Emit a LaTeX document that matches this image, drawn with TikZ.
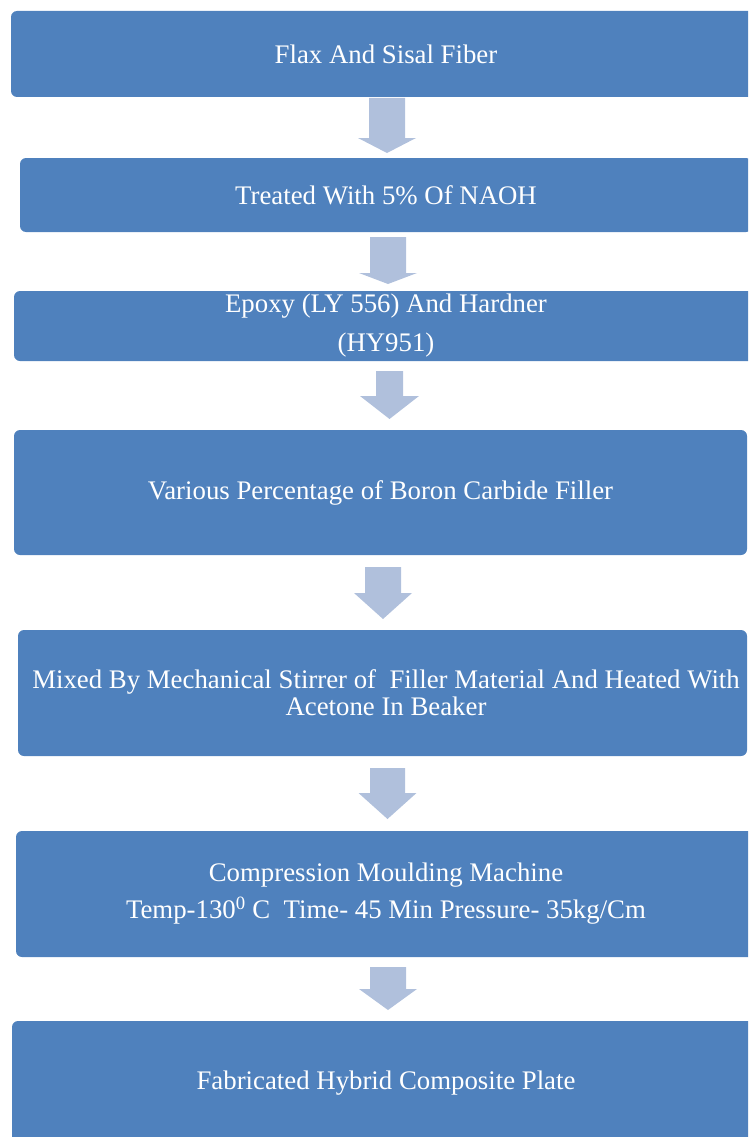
\documentclass[tikz,border=0pt]{standalone}
\usepackage{fontspec}
\setmainfont{Liberation Serif}
\definecolor{boxblue}{HTML}{4F81BD}
\definecolor{arrowblue}{HTML}{B0C0DC}
\tikzset{
  stepbox/.style={fill=boxblue, draw=none, rounded corners=6pt, text=white,
    align=center, inner sep=0pt, font=\fontsize{26.8}{30}\selectfont},
}
% block arrow: cx, shaft half width, head half width, top, head start, tip
\newcommand\blockarr[6]{%
  \fill[arrowblue] (#1-#2,#4) -- (#1+#2,#4) -- (#1+#2,#5) -- (#1+#3,#5)
    -- (#1,#6) -- (#1-#3,#5) -- (#1-#2,#5) -- cycle;}
\begin{document}
\begin{tikzpicture}[x=1pt,y=-1pt]
\useasboundingbox (0,0) rectangle (748,1137);
\clip (0,0) rectangle (748,1137);
% boxes: center x = (l+r)/2, width = r-l, center y, height
\node[stepbox, minimum width=750pt, minimum height=86pt] (b1) at (386,54) {Flax And Sisal Fiber};
\node[stepbox, minimum width=732pt, minimum height=74pt] (b2) at (386,195) {Treated With 5\% Of NAOH};
\node[stepbox, minimum width=744pt, minimum height=70pt, font=\fontsize{26.8}{39}\selectfont] (b3) at (386,326) {Epoxy (LY 556) And Hardner\\(HY951)};
\node[stepbox, minimum width=733pt, minimum height=125pt] (b4) at (380.5,492.5) {Various Percentage of Boron Carbide Filler};
\node[stepbox, minimum width=729pt, minimum height=126pt, font=\fontsize{26.8}{27}\selectfont] (b5) at (382.5,693) {\hspace*{7pt}Mixed By Mechanical Stirrer of \ Filler Material And Heated With\\\hspace*{7pt}Acetone In Beaker};
\node[stepbox, minimum width=740pt, minimum height=126pt, font=\fontsize{26.8}{37}\selectfont] (b6) at (386,894) {Compression Moulding Machine\\Temp-130\textsuperscript{0} C \ Time- 45 Min Pressure- 35kg/Cm};
\node[stepbox, minimum width=748pt, minimum height=125pt] (b7) at (386,1083.5) {Fabricated Hybrid Composite Plate};
% block arrows between boxes
\blockarr{387}{18}{29}{98}{138}{153}
\blockarr{388}{18}{29}{237}{273}{284}
\blockarr{389.5}{13.5}{29.5}{371}{396}{419}
\blockarr{383}{18}{29}{567}{593}{619}
\blockarr{387.5}{17.5}{29}{768}{793}{819}
\blockarr{388}{18}{29}{967}{989}{1010}
\end{tikzpicture}
\end{document}
